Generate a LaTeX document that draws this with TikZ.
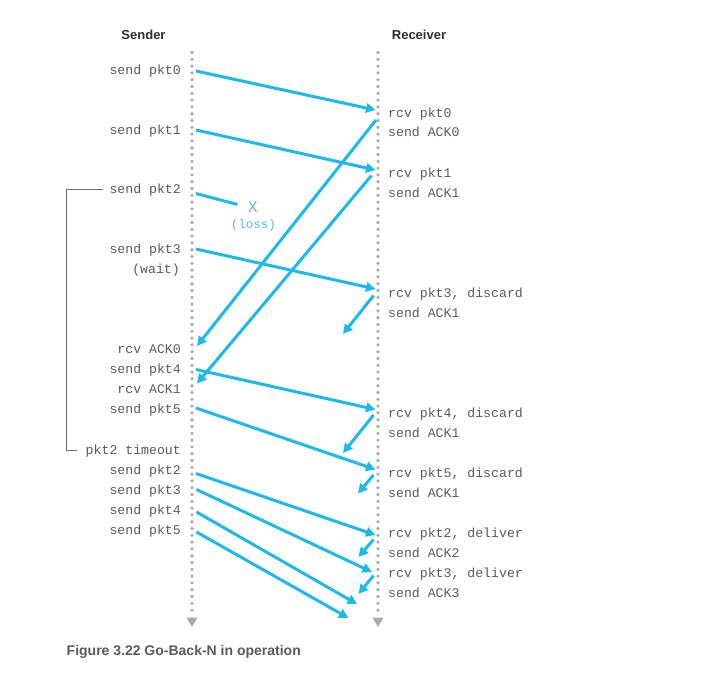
\documentclass[tikz,border=0pt]{standalone}
\usepackage{fontspec}
\setmainfont{Liberation Sans}
\setmonofont{Liberation Mono}
\usetikzlibrary{arrows.meta}
\definecolor{pktblue}{RGB}{30,185,235}
\definecolor{txtgray}{RGB}{90,90,90}
\definecolor{headgray}{RGB}{45,45,45}
\definecolor{dotgray}{RGB}{170,170,170}
\definecolor{lossblue}{RGB}{95,180,225}
\definecolor{brgray}{RGB}{110,110,110}
\begin{document}
\begin{tikzpicture}[x=1pt,y=-1pt,
  lbl/.style={font=\fontsize{13.2}{15}\selectfont\ttfamily, text=txtgray, inner sep=0pt},
  slbl/.style={lbl, anchor=base east},
  rlbl/.style={lbl, anchor=base west},
  head/.style={font=\fontsize{13}{15}\selectfont\bfseries, text=headgray, inner sep=0pt, anchor=base},
  msg/.style={draw=pktblue, line width=3pt, -{Triangle[length=9.5pt,width=9.5pt]}},
  lossline/.style={draw=pktblue, line width=3pt},
  timeline/.style={draw=dotgray, line width=3.6pt, line cap=round, dash pattern=on 0pt off 6.8pt},
  tltip/.style={fill=dotgray},
  bracket/.style={draw=brgray, line width=0.9pt}
]
\useasboundingbox (0,0) rectangle (725,675);

% headers
\node[head] (hs) at (143.5,39.5) {Sender};
\node[head] (hr) at (419,39.5) {Receiver};

% timelines
\coordinate (stop) at (192,52.5);
\coordinate (sbot) at (192,613);
\coordinate (rtop) at (378,52.5);
\coordinate (rbot) at (378,613);
\draw[timeline] (stop) -- (sbot);
\draw[timeline] (rtop) -- (rbot);
\fill[tltip] (186.5,617.5) -- (197.5,617.5) -- (192,627) -- cycle;
\fill[tltip] (372.5,617.5) -- (383.5,617.5) -- (378,627) -- cycle;

% sender labels
\node[slbl] (l0) at (181,74) {send pkt0};
\node[slbl] (l1) at (181,134) {send pkt1};
\node[slbl] (l2) at (181,193) {send pkt2};
\node[slbl] (l3) at (181,253) {send pkt3};
\node[slbl] (lw) at (180,273) {(wait)};
\node[slbl] (la0) at (181,353) {rcv ACK0};
\node[slbl] (l4) at (181,373) {send pkt4};
\node[slbl] (la1) at (181,393) {rcv ACK1};
\node[slbl] (l5) at (181,413) {send pkt5};
\node[slbl] (lto) at (181,454) {pkt2 timeout};
\node[slbl] (m2) at (181,474) {send pkt2};
\node[slbl] (m3) at (181,494) {send pkt3};
\node[slbl] (m4) at (181,514) {send pkt4};
\node[slbl] (m5) at (181,534) {send pkt5};

% receiver labels
\node[rlbl] (r0) at (388,117) {rcv pkt0};
\node[rlbl] (k0) at (388,136) {send ACK0};
\node[rlbl] (r1) at (388,177) {rcv pkt1};
\node[rlbl] (k1) at (388,197) {send ACK1};
\node[rlbl] (r3) at (388,297) {rcv pkt3, discard};
\node[rlbl] (k3) at (388,317) {send ACK1};
\node[rlbl] (r4) at (388,417) {rcv pkt4, discard};
\node[rlbl] (k4) at (388,437) {send ACK1};
\node[rlbl] (r5) at (388,477) {rcv pkt5, discard};
\node[rlbl] (k5) at (388,497) {send ACK1};
\node[rlbl] (r2b) at (388,537) {rcv pkt2, deliver};
\node[rlbl] (k2b) at (388,557) {send ACK2};
\node[rlbl] (r3b) at (388,577) {rcv pkt3, deliver};
\node[rlbl] (k3b) at (388,597) {send ACK3};

% loss marker
\node[font=\fontsize{16}{18}\selectfont\ttfamily, text=lossblue, inner sep=0pt] (x) at (253,207.5) {X};
\node[font=\fontsize{12.5}{14}\selectfont\ttfamily, text=lossblue, inner sep=0pt] (loss) at (253.5,225) {(loss)};

% message endpoints
\coordinate (p0s) at (196,71);   \coordinate (p0e) at (375.5,110);
\coordinate (p1s) at (196,130);  \coordinate (p1e) at (375.5,170);
\coordinate (p2s) at (196,193.5);\coordinate (p2e) at (237.5,204.5);
\coordinate (p3s) at (196,249);  \coordinate (p3e) at (375.5,289);
\coordinate (a0s) at (376,120);  \coordinate (a0e) at (197,346);
\coordinate (a1s) at (371.5,175.5);\coordinate (a1e) at (197,383.5);
\coordinate (a3s) at (373.5,295.5);\coordinate (a3e) at (343,334);
\coordinate (p4s) at (196,369.5);\coordinate (p4e) at (375.5,409.5);
\coordinate (a4s) at (373.5,415);\coordinate (a4e) at (343,453);
\coordinate (p5s) at (196,408);  \coordinate (p5e) at (375.5,469.5);
\coordinate (a5s) at (373.5,475);\coordinate (a5e) at (358,493.5);
\coordinate (q2s) at (196,473.5);\coordinate (q2e) at (375.5,535);
\coordinate (b2s) at (373.5,539.5);\coordinate (b2e) at (358.5,557);
\coordinate (q3s) at (196.5,489.5);\coordinate (q3e) at (372,572);
\coordinate (b3s) at (373.5,575.5);\coordinate (b3e) at (358.5,594);
\coordinate (q4s) at (196.5,512);\coordinate (q4e) at (357,604);
\coordinate (q5s) at (196.5,532);\coordinate (q5e) at (348.5,618);

\draw[msg] (p0s) -- (p0e);
\draw[msg] (p1s) -- (p1e);
\draw[lossline] (p2s) -- (p2e);
\draw[msg] (p3s) -- (p3e);
\draw[msg] (a0s) -- (a0e);
\draw[msg] (a1s) -- (a1e);
\draw[msg] (a3s) -- (a3e);
\draw[msg] (p4s) -- (p4e);
\draw[msg] (a4s) -- (a4e);
\draw[msg] (p5s) -- (p5e);
\draw[msg] (a5s) -- (a5e);
\draw[msg] (q2s) -- (q2e);
\draw[msg] (b2s) -- (b2e);
\draw[msg] (q3s) -- (q3e);
\draw[msg] (b3s) -- (b3e);
\draw[msg] (q4s) -- (q4e);
\draw[msg] (q5s) -- (q5e);

% timeout bracket
\coordinate (bt) at (103,189.5);
\coordinate (bb) at (76.5,450);
\draw[bracket] (bt) -- (66.5,189.5) -- (66.5,450) -- (bb);

% caption
\node[font=\fontsize{14}{16}\selectfont\bfseries, text=txtgray, inner sep=0pt, anchor=base west] (cap) at (66.5,655.5) {Figure 3.22 Go-Back-N in operation};
\end{tikzpicture}
\end{document}
